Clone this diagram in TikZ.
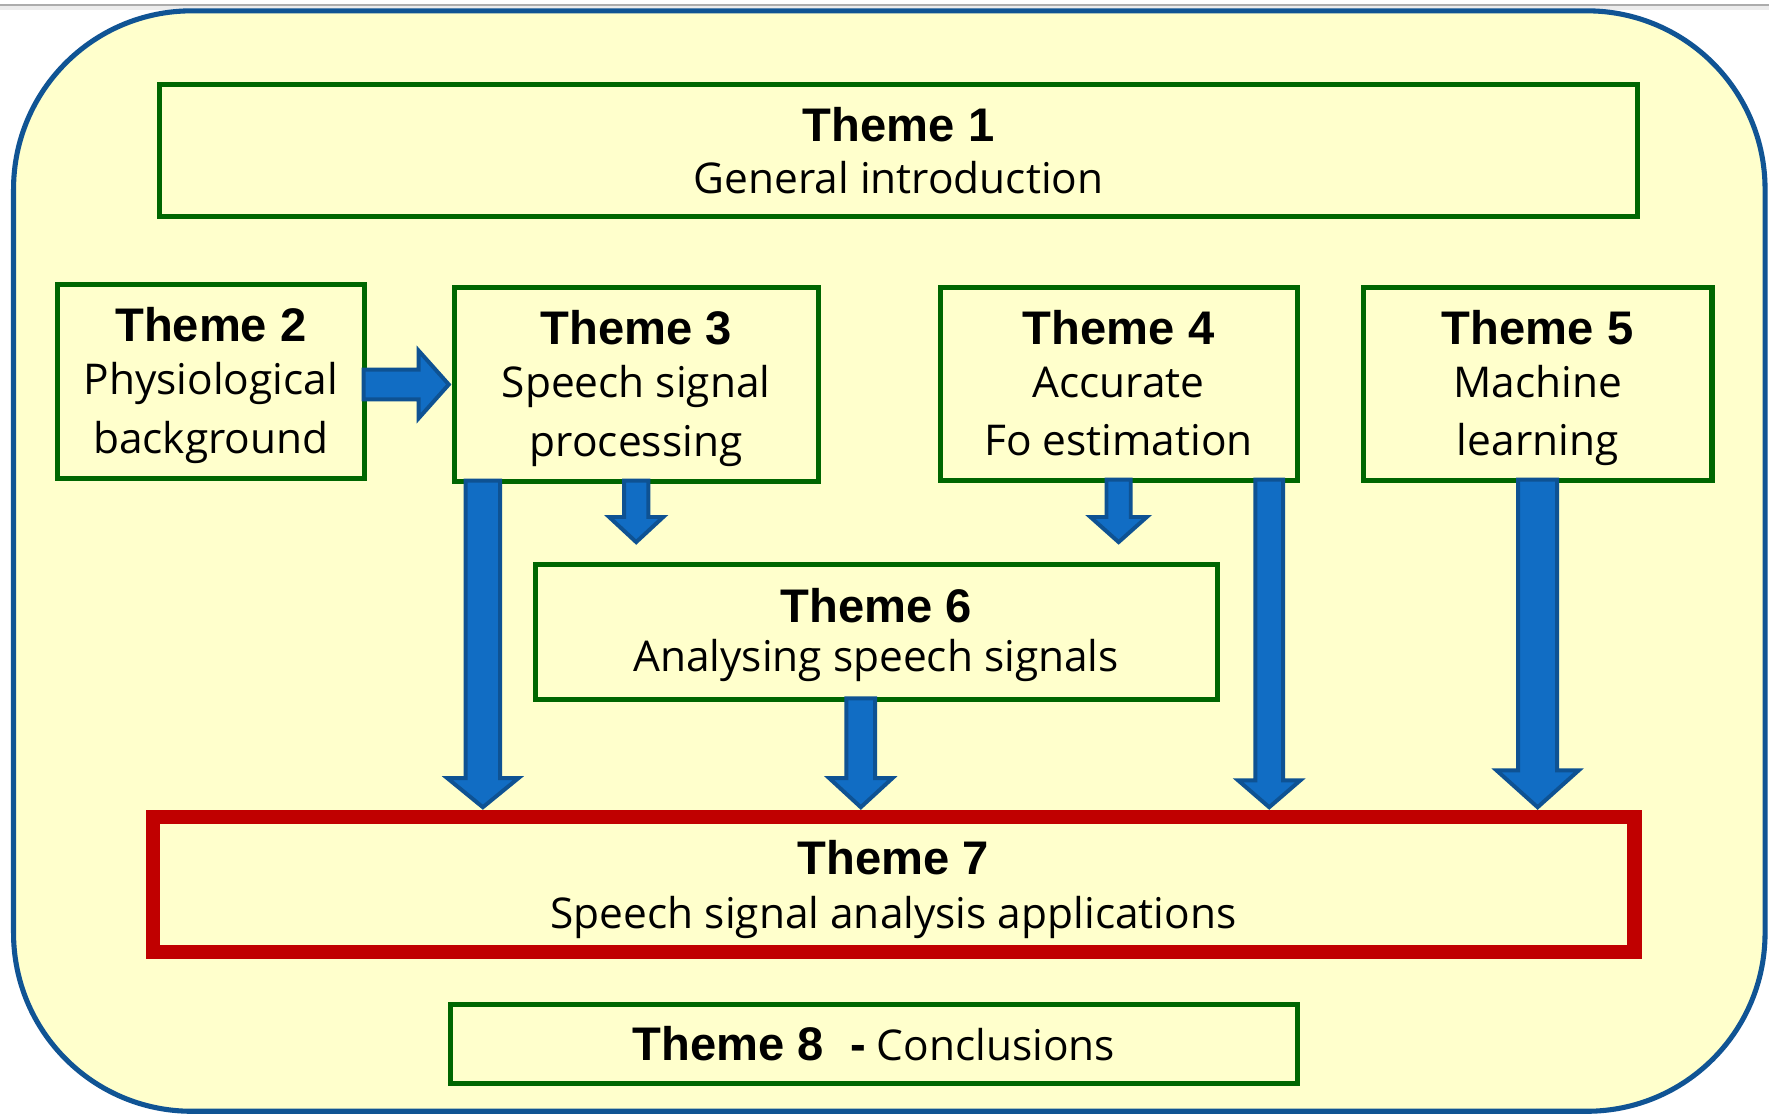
\documentclass[tikz,border=0pt]{standalone}
\usepackage{fontspec}
\setmainfont{Open Sans}
\newfontfamily\arialfont{Liberation Sans}
\usetikzlibrary{calc}
\definecolor{bgyellow}{RGB}{255,255,204}
\definecolor{outerblue}{RGB}{16,84,148}
\definecolor{grn}{RGB}{0,102,0}
\definecolor{redc}{RGB}{192,0,0}
\definecolor{arrfill}{RGB}{17,109,196}
\definecolor{arrline}{RGB}{14,82,147}
\newcommand\thmfont{\arialfont\bfseries\fontsize{41.8}{46}\selectfont}
\newcommand\dscfont{\fontsize{37.6}{46}\selectfont}
\newcommand\vfat[5]{\filldraw[fatarrow] ($(#1)+(-#3,0)$) -- ($(#2)+(-#3,-#5)$) -- ($(#2)+(-#4,-#5)$) -- (#2) -- ($(#2)+(#4,-#5)$) -- ($(#2)+(#3,-#5)$) -- ($(#1)+(#3,0)$) -- cycle;}
\newcommand\hfat[5]{\filldraw[fatarrow] ($(#1)+(0,-#3)$) -- ($(#2)+(-#5,-#3)$) -- ($(#2)+(-#5,-#4)$) -- (#2) -- ($(#2)+(-#5,#4)$) -- ($(#2)+(-#5,#3)$) -- ($(#1)+(0,#3)$) -- cycle;}
\begin{document}
\begin{tikzpicture}[x=1pt,y=-1pt,
  gbox/.style={draw=grn, line width=4.5pt, inner sep=0pt, rectangle},
  rbox/.style={draw=redc, line width=12.5pt, inner sep=0pt, rectangle},
  lbl/.style={anchor=base, inner sep=0pt, outer sep=0pt},
  fatarrow/.style={fill=arrfill, draw=arrline, line width=3.5pt, line join=miter}]
\useasboundingbox (0,0) rectangle (1568,987);
% top rule
\fill[white] (0,0) rectangle (1568,987);
\draw[gray!15, line width=3pt] (0,7) -- (1568,7);
\draw[gray!65, line width=1.6pt] (0,4.4) -- (1568,4.4);
% frame
\draw[draw=outerblue, fill=bgyellow, line width=4.5pt, rounded corners=158pt] (12,9.6) rectangle (1564.5,985);
% boxes
\node[gbox, minimum width=1310.5pt, minimum height=117.5pt] (t1) at (796.5,133.5) {};
\node[gbox, minimum width=272.3pt, minimum height=171.8pt] (t2) at (186.9,337.9) {};
\node[gbox, minimum width=322.7pt, minimum height=171.9pt] (t3) at (563.9,340.8) {};
\node[gbox, minimum width=316.5pt, minimum height=171pt] (t4) at (991.5,340.3) {};
\node[gbox, minimum width=309.1pt, minimum height=171pt] (t5) at (1362.9,340.3) {};
\node[gbox, minimum width=604.5pt, minimum height=119.5pt] (t6) at (776.5,560) {};
\node[rbox, minimum width=1313.5pt, minimum height=119.5pt] (t7) at (792,784) {};
\node[gbox, minimum width=750.5pt, minimum height=70.1pt] (t8) at (774.5,925.3) {};
% arrow coordinates
\coordinate (a23s) at ($(t2.east |- t3.west)+(-3,0)$);
\coordinate (a23e) at ($(t3.west)+(-2.5,0)$);
\coordinate (a36s) at ($(t3.south)+(0,-3)$);
\coordinate (a36e) at ($(t3.south |- t6.north)+(0,-17.5)$);
\coordinate (a46s) at ($(t4.south)+(0,-3)$);
\coordinate (a46e) at ($(t4.south |- t6.north)+(0,-17.5)$);
\coordinate (a37s) at ($(428,0 |- t3.south)+(0,-3)$);
\coordinate (a37e) at ($(428,0 |- t7.north)+(0,-2.5)$);
\coordinate (a67s) at ($(763,0 |- t6.south)+(0,-3)$);
\coordinate (a67e) at ($(763,0 |- t7.north)+(0,-2.5)$);
\coordinate (a47s) at ($(1125,0 |- t4.south)+(0,-3)$);
\coordinate (a47e) at ($(1125,0 |- t7.north)+(0,-2.5)$);
\coordinate (a57s) at ($(t5.south)+(0,-3)$);
\coordinate (a57e) at ($(t5.south |- t7.north)+(0,-2.5)$);
% arrows
\hfat{a23s}{a23e}{13.25}{30}{26.75}
\vfat{a36s}{a36e}{10.75}{24}{22.25}
\vfat{a46s}{a46e}{10.75}{25}{22.25}
\vfat{a37s}{a37e}{15.25}{31.5}{25.75}
\vfat{a67s}{a67e}{12.75}{28}{25.75}
\vfat{a47s}{a47e}{12.25}{27.5}{23.75}
\vfat{a57s}{a57e}{17.25}{36.5}{32.75}
% texts
\node[lbl] (t1a) at (t1.center |- 0,125.6) {\thmfont Theme 1};
\node[lbl] (t1b) at (t1.center |- 0,171.3) {\dscfont General introduction};
\node[lbl] (t2a) at (t2.center |- 0,302.9) {\thmfont Theme 2};
\node[lbl] (t2b) at (t2.center |- 0,349.3) {\dscfont Physiological};
\node[lbl] (t2c) at (t2.center |- 0,401.8) {\dscfont background};
\node[lbl] (t3a) at (t3.center |- 0,305) {\thmfont Theme 3};
\node[lbl] (t3b) at (t3.center |- 0,352.7) {\dscfont Speech signal};
\node[lbl] (t3c) at (t3.center |- 0,404.5) {\dscfont processing};
\node[lbl] (t4a) at (t4.center |- 0,305) {\thmfont Theme 4};
\node[lbl] (t4b) at (t4.center |- 0,352.2) {\dscfont Accurate};
\node[lbl] (t4c) at (t4.center |- 0,403.4) {\dscfont Fo estimation};
\node[lbl] (t5a) at (t5.center |- 0,305) {\thmfont Theme 5};
\node[lbl] (t5b) at (t5.center |- 0,352.5) {\dscfont Machine};
\node[lbl] (t5c) at (t5.center |- 0,404) {\dscfont learning};
\node[lbl] (t6a) at (t6.center |- 0,551.6) {\thmfont Theme 6};
\node[lbl] (t6b) at (t6.center |- 0,595.4) {\dscfont Analysing speech signals};
\node[lbl] (t7a) at (t7.center |- 0,774.7) {\thmfont Theme 7};
\node[lbl] (t7b) at (t7.center |- 0,822.9) {\dscfont Speech signal analysis applications};
\node[lbl] (t8a) at (t8.center |- 0,940.2) {{\thmfont Theme 8\ \ -}\dscfont\ Conclusions};
\end{tikzpicture}
\end{document}
